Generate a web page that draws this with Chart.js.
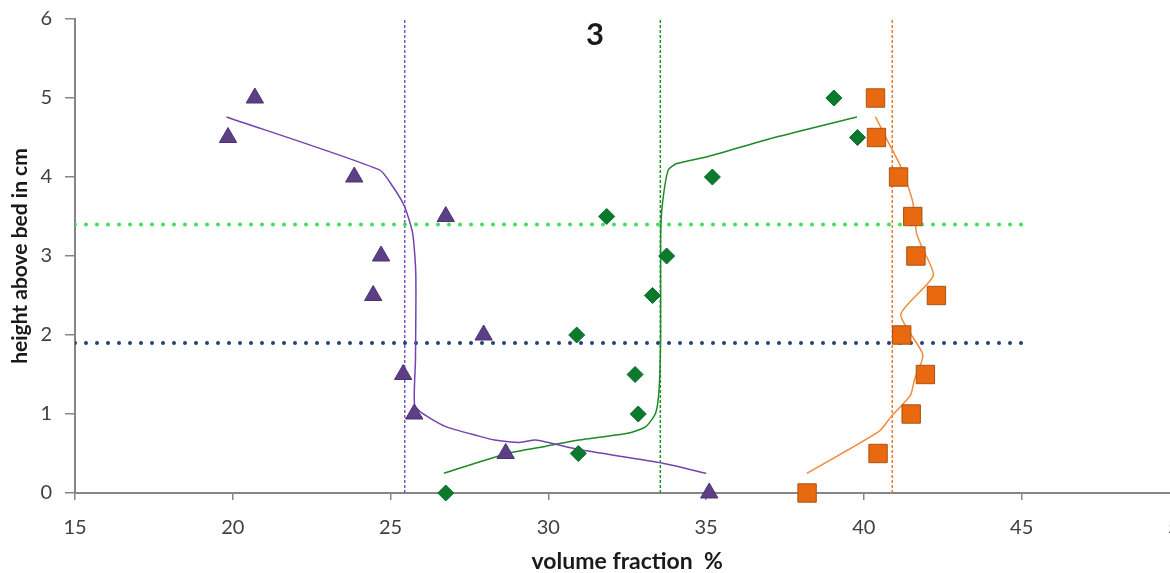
<!DOCTYPE html>
<html>
<head>
<meta charset="utf-8">
<script src="https://cdn.jsdelivr.net/npm/chart.js@4/dist/chart.umd.min.js"></script>
<style>
    html, body { margin: 0; padding: 0; background: #fff; overflow: hidden; }
    #wrap { width: 1207px; height: 573px; }
</style>
</head>
<body>
<div id="wrap"><canvas id="chart" width="1207" height="573"></canvas></div>
<script>
// Measured heights (cm) shared by the three marker series
const heights = [5, 4.5, 4, 3.5, 3, 2.5, 2, 1.5, 1, 0.5, 0];

// Volume fraction % per marker series
const triangleX = [20.7, 19.85, 23.85, 26.75, 24.7, 24.45, 27.95, 25.4, 25.75, 28.65, 35.1];
const diamondX  = [39.05, 39.8, 35.2, 31.85, 33.75, 33.3, 30.9, 32.75, 32.85, 30.95, 26.75];
const squareX   = [40.37, 40.4, 41.1, 41.55, 41.65, 42.3, 41.2, 41.95, 41.5, 40.45, 38.2];

// Fitted curves
const purpleFitX = [35.0, 33.6, 30.97, 29.6, 29.1, 28.3, 27.8, 26.75, 26.0, 25.76, 25.79, 25.8, 25.7, 25.44, 25.07, 24.65, 19.8];
const purpleFitY = [0.25, 0.38, 0.55, 0.67, 0.64, 0.67, 0.72, 0.84, 1.01, 1.12, 1.69, 2.78, 3.29, 3.63, 3.88, 4.09, 4.76];
const greenFitX = [26.69, 28.7, 29.9, 30.97, 32.56, 33.09, 33.4, 33.51, 33.56, 33.56, 33.6, 33.8, 34.07, 35.07, 37.17, 39.78];
const greenFitY = [0.25, 0.5, 0.59, 0.67, 0.76, 0.84, 1.01, 1.31, 2.0, 3.2, 3.6, 4.09, 4.17, 4.26, 4.5, 4.76];
const orangeFitX = [38.2, 40.48, 40.87, 41.48, 41.6, 41.87, 41.17, 42.2, 41.83, 41.67, 41.54, 41.17, 40.8, 40.37];
const orangeFitY = [0.25, 0.78, 0.97, 1.24, 1.43, 1.75, 2.26, 2.75, 3.12, 3.29, 3.7, 4.13, 4.42, 4.76];

// Reference lines
const refHeights = [3.4, 1.9];       // horizontal dotted lines
const refFractions = [25.45, 33.55, 40.9]; // vertical dashed lines
const refSpanX = [15, 45];
const refSpanY = [0, 6];

// Axis settings
const xMin = 15, xMax = 50, xStep = 5;
const yMin = 0, yMax = 6, yStep = 1;

const pts = (xs, ys) => xs.map((x, i) => ({ x: x, y: ys[i] }));
const hLine = (y) => refSpanX.map(x => ({ x: x, y: y }));
const vLine = (x) => refSpanY.map(y => ({ x: x, y: y }));

const FONT = 'Lato, "Open Sans", sans-serif';

const datasets = [
    {
        label: 'triangles',
        data: heights.map((h, i) => ({ x: triangleX[i], y: h })),
        pointStyle: 'triangle',
        pointRadius: 10,
        backgroundColor: '#5d3f86',
        borderColor: '#4d3275',
        borderWidth: 1,
        showLine: false,
        clip: false
    },
    {
        label: 'diamonds',
        data: heights.map((h, i) => ({ x: diamondX[i], y: h })),
        pointStyle: 'rectRot',
        pointRadius: 8,
        backgroundColor: '#0b7a2c',
        borderColor: '#0a6a26',
        borderWidth: 1,
        showLine: false,
        clip: false
    },
    {
        label: 'squares',
        data: heights.map((h, i) => ({ x: squareX[i], y: h })),
        pointStyle: 'rect',
        pointRadius: 13,
        backgroundColor: '#e8690f',
        borderColor: '#a9530f',
        borderWidth: 1,
        showLine: false,
        clip: false
    },
    {
        label: 'purple fit',
        data: pts(purpleFitX, purpleFitY),
        showLine: true, pointRadius: 0,
        borderColor: '#7443b0', borderWidth: 1.5, tension: 0.2
    },
    {
        label: 'green fit',
        data: pts(greenFitX, greenFitY),
        showLine: true, pointRadius: 0,
        borderColor: '#1c8a26', borderWidth: 1.5, tension: 0.2
    },
    {
        label: 'orange fit',
        data: pts(orangeFitX, orangeFitY),
        showLine: true, pointRadius: 0,
        borderColor: '#f28a3c', borderWidth: 1.5, tension: 0.2
    },
    {
        label: 'upper level',
        data: hLine(refHeights[0]),
        showLine: true, pointRadius: 0,
        borderColor: '#3fe05a', borderWidth: 4,
        borderDash: [0, 11], borderCapStyle: 'round'
    },
    {
        label: 'lower level',
        data: hLine(refHeights[1]),
        showLine: true, pointRadius: 0,
        borderColor: '#23407a', borderWidth: 4,
        borderDash: [0, 11], borderCapStyle: 'round'
    },
    {
        label: 'purple mean',
        data: vLine(refFractions[0]),
        showLine: true, pointRadius: 0,
        borderColor: '#7b55c4', borderWidth: 1.5, borderDash: [3, 2]
    },
    {
        label: 'green mean',
        data: vLine(refFractions[1]),
        showLine: true, pointRadius: 0,
        borderColor: '#1f8f1f', borderWidth: 1.5, borderDash: [3, 2]
    },
    {
        label: 'orange mean',
        data: vLine(refFractions[2]),
        showLine: true, pointRadius: 0,
        borderColor: '#ea7a25', borderWidth: 1.5, borderDash: [3, 2]
    }
];

// Panel number drawn above the plot
const panelTitle = {
    id: 'panelTitle',
    afterDraw(chart) {
        const ctx = chart.ctx;
        ctx.save();
        ctx.font = 'bold 31px ' + FONT;
        ctx.fillStyle = '#1a1a1a';
        ctx.textAlign = 'center';
        ctx.textBaseline = 'middle';
        ctx.fillText('3', 595, 35);
        ctx.restore();
    }
};

new Chart(document.getElementById('chart').getContext('2d'), {
    type: 'scatter',
    data: { datasets: datasets },
    plugins: [panelTitle],
    options: {
        responsive: false,
        animation: false,
        layout: { padding: { left: 0, right: 19, top: 19, bottom: 0 } },
        plugins: {
            legend: { display: false },
            tooltip: { enabled: false }
        },
        scales: {
            x: {
                type: 'linear',
                min: xMin, max: xMax,
                afterFit: (scale) => { scale.height = 80; },
                ticks: {
                    stepSize: xStep,
                    padding: 16,
                    color: '#404040',
                    font: { family: FONT, size: 20 }
                },
                grid: { drawOnChartArea: false, tickLength: 7, color: '#868686', lineWidth: 1.5 },
                border: { color: '#868686', width: 2 },
                title: {
                    display: true,
                    text: 'volume fraction  %',
                    color: '#1a1a1a',
                    padding: { top: 0, bottom: 0 },
                    font: { family: FONT, size: 23, weight: 'bold', lineHeight: 1 }
                }
            },
            y: {
                type: 'linear',
                min: yMin, max: yMax,
                afterFit: (scale) => {
                    scale.width = 75;
                    scale.paddingTop = 0;
                    scale.paddingBottom = 0;
                },
                ticks: {
                    stepSize: yStep,
                    padding: 13,
                    color: '#404040',
                    font: { family: FONT, size: 20 }
                },
                grid: { drawOnChartArea: false, tickLength: 10, color: '#868686', lineWidth: 1.5 },
                border: { color: '#868686', width: 2 },
                title: {
                    display: true,
                    text: 'height above bed in cm',
                    color: '#1a1a1a',
                    padding: { top: 8, bottom: 0 },
                    font: { family: FONT, size: 21, weight: 'bold' }
                }
            }
        }
    }
});
</script>
</body>
</html>
